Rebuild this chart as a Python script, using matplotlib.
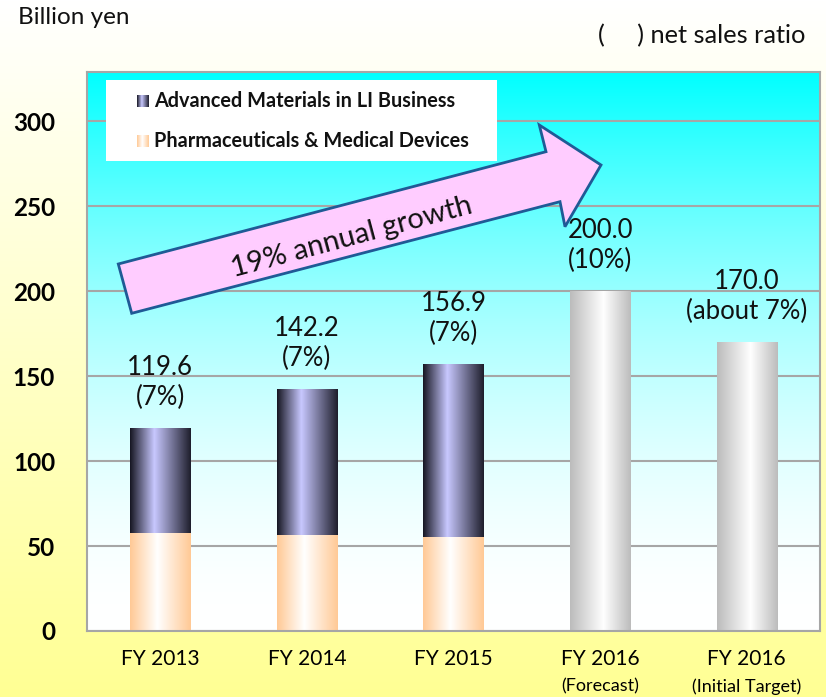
import numpy as np
import matplotlib
matplotlib.use('Agg')
import matplotlib.pyplot as plt
from matplotlib.colors import LinearSegmentedColormap
from matplotlib.patches import Polygon, Rectangle

plt.rcParams['font.family'] = ['Lato', 'DejaVu Sans']

# data
categories = ['FY 2013', 'FY 2014', 'FY 2015', 'FY 2016', 'FY 2016']
sub_labels = ['', '', '', '(Forecast)', '(Initial Target)']
totals = [119.6, 142.2, 156.9, 200.0, 170.0]
pharma = [57.5, 56.5, 55.5]
ratios = ['(7%)', '(7%)', '(7%)', '(10%)', '(about 7%)']
series_names = ['Advanced Materials in LI Business', 'Pharmaceuticals & Medical Devices']
advanced = [t - p for t, p in zip(totals[:3], pharma)]

W, H = 826, 697
fig = plt.figure(figsize=(W / 100, H / 100), dpi=100)

# figure background: white at top to pale yellow at bottom
bg = fig.add_axes([0, 0, 1, 1], zorder=-10)
t = np.linspace(0, 1, 256).reshape(-1, 1)
bg_img = np.ones((256, 1, 3))
bg_img[:, 0, 2] = 1 - 0.42 * t[:, 0]
bg.imshow(bg_img, aspect='auto', extent=[0, 1, 0, 1], origin='upper')
bg.axis('off')

ax = fig.add_axes([87 / W, 1 - 631 / H, (820 - 87) / W, (631 - 72) / H])
ax.patch.set_visible(False)

# axes background: white at bottom to cyan at top
u = np.linspace(0, 1, 256)
ax_img = np.ones((256, 1, 3))
ax_img[:, 0, 0] = 1 - u ** 1.8
ax.imshow(ax_img, aspect='auto', extent=[0, 1, 0, 1], origin='lower',
          transform=ax.transAxes, zorder=0)

purple = LinearSegmentedColormap.from_list('p', [(0, '#161622'), (0.4, '#c8c8ff'), (1, '#1e1e2c')])
orange = LinearSegmentedColormap.from_list('o', [(0, '#ffc995'), (0.45, '#ffffff'), (1, '#ffc995')])
gray = LinearSegmentedColormap.from_list('g', [(0, '#bcbcbc'), (0.55, '#ffffff'), (1, '#bcbcbc')])
grad = np.linspace(0, 1, 256).reshape(1, -1)


def gradient_bars(bars, cmap):
    for b in bars:
        x0, y0 = b.get_x(), b.get_y()
        im = ax.imshow(grad, cmap=cmap, aspect='auto', zorder=1.5,
                       extent=[x0, x0 + b.get_width(), y0, y0 + b.get_height()])
        im.set_clip_path(b)


x = np.arange(len(categories))
width = 0.41
b1 = ax.bar(x[:3], pharma, width, facecolor='none', edgecolor='none')
b2 = ax.bar(x[:3], advanced, width, bottom=pharma, facecolor='none', edgecolor='none')
b3 = ax.bar(x[3:], totals[3:], width, facecolor='none', edgecolor='none')
gradient_bars(b1, orange)
gradient_bars(b2, purple)
gradient_bars(b3, gray)
ax.set_xlim(-0.5, 4.5)
ax.set_ylim(0, 329)

for i, (tot, r) in enumerate(zip(totals, ratios)):
    ax.annotate(f'{tot:.1f}\n{r}', (x[i], tot), xytext=(0, 13), textcoords='offset points',
                ha='center', va='bottom', fontsize=18.5, linespacing=1.25, color='#111111', zorder=4)

ax.set_yticks([0, 50, 100, 150, 200, 250, 300])
ax.grid(axis='y', color='#a6a6a6', linewidth=1.5)
ax.set_axisbelow(True)
ax.tick_params(axis='y', length=0, pad=23, labelsize=17.5)
for lab in ax.get_yticklabels():
    lab.set_fontweight('bold')
ax.set_xticks(x)
ax.set_xticklabels(categories, fontsize=15)
ax.tick_params(axis='x', length=0, pad=13)
for i, s in enumerate(sub_labels):
    if s:
        ax.annotate(s, (x[i], 0), xycoords=('data', 'axes fraction'), xytext=(0, -40),
                    textcoords='offset points', ha='center', va='center', fontsize=13)
for sp in ax.spines.values():
    sp.set_color('#a6a6a6')
    sp.set_linewidth(1.5)

# overlay in pixel coordinates for arrow, legend and headings
ov = fig.add_axes([0, 0, 1, 1], zorder=5)

arrow = [(131.7, 313.3), (118.3, 264), (546, 151.7), (539.3, 125), (601, 165),
         (565, 226.7), (560, 201.7)]
ov.add_patch(Polygon(arrow, closed=True, facecolor='#ffccff', edgecolor='#1f5a96', linewidth=2))
ov.text(352, 237, '19% annual growth', rotation=15, ha='center', va='center',
        fontsize=21, color='#111111', rotation_mode='anchor')

ov.add_patch(Rectangle((106, 80), 391, 81, facecolor='white', edgecolor='none', zorder=1))
for name, cmap, yc in zip(series_names, [purple, orange], [101, 141]):
    ov.imshow(grad, cmap=cmap, aspect='auto', extent=[137, 149, yc + 6, yc - 6], zorder=2)
    ov.text(154, yc, name, ha='left', va='center', fontsize=14.3, fontweight='bold',
            color='#111111', zorder=3)

ov.text(18, 18, 'Billion yen', ha='left', va='center', fontsize=17.5, color='#111111')
ov.text(805, 36, '(     ) net sales ratio', ha='right', va='center', fontsize=18.3, color='#111111')
ov.set_xlim(0, W)
ov.set_ylim(H, 0)
ov.axis('off')

fig.savefig('out.png', dpi=100)
